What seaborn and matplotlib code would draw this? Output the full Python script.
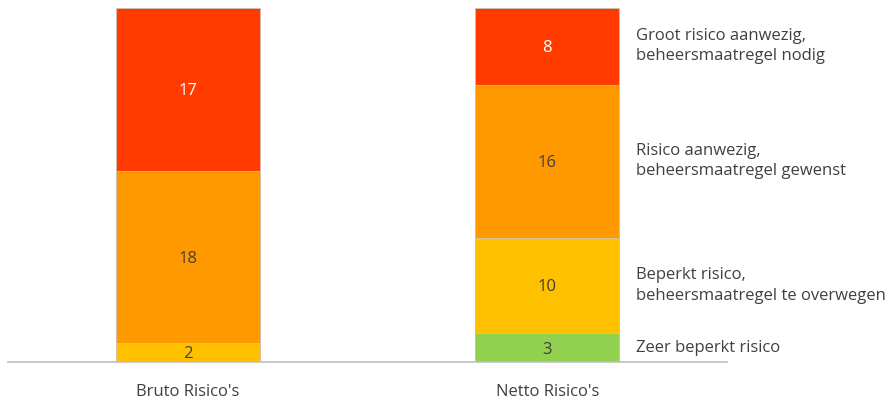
import matplotlib
matplotlib.use("Agg")
import matplotlib.pyplot as plt
import seaborn as sns
import numpy as np
import pandas as pd

categories = ["Bruto Risico's", "Netto Risico's"]
levels = ["Zeer beperkt risico",
          "Beperkt risico,\nbeheersmaatregel te overwegen",
          "Risico aanwezig,\nbeheersmaatregel gewenst",
          "Groot risico aanwezig,\nbeheersmaatregel nodig"]
bruto = [0, 2, 18, 17]
netto = [3, 10, 16, 8]
colors = ["#92D050", "#FFC000", "#FF9900", "#FF3B00"]
label_colors = ["#404040", "#404040", "#404040", "#FFFFFF"]

sns.set_theme(style="white")
plt.rcParams['font.family'] = ['Open Sans', 'DejaVu Sans']

fig = plt.figure(figsize=(8.9, 4.01), dpi=100)
ax = fig.add_axes([8/890, 1-362/401, (727-8)/890, (362-8)/401])

vals = np.array([bruto, netto])  # shape (2, 4)
cum = vals.cumsum(axis=1)

# draw from top layer down so stacked appearance
for i in range(len(levels) - 1, -1, -1):
    df = pd.DataFrame({"cat": categories, "val": cum[:, i]})
    sns.barplot(data=df, x="cat", y="val", color=colors[i], width=0.4,
                saturation=1, edgecolor="#C8C8C8", linewidth=0.5, ax=ax)

for j in range(2):
    for i in range(len(levels)):
        v = vals[j, i]
        if v == 0:
            continue
        mid = cum[j, i] - v / 2
        ax.text(j, mid, str(v), ha="center", va="center_baseline", fontsize=12,
                color=label_colors[i])

for i in range(len(levels)):
    mid = cum[1, i] - vals[1, i] / 2
    ax.text(1.248, mid, levels[i], ha="left", va="center", fontsize=12,
            color="#404040", linespacing=1.35)

ax.set_xlim(-0.5, 1.5)
ax.set_ylim(0, 37)
ax.set_xlabel("")
ax.set_ylabel("")
ax.set_yticks([])
for s in ["top", "right", "left"]:
    ax.spines[s].set_visible(False)
ax.spines["bottom"].set_color("#BFBFBF")
ax.spines["bottom"].set_linewidth(1.2)
ax.tick_params(axis="x", length=0, pad=16, labelsize=12, colors="#404040")

fig.savefig("out.png", dpi=100)
